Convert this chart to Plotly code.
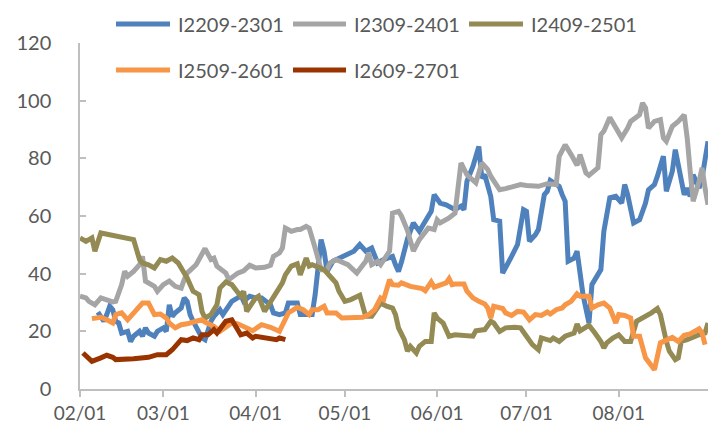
import plotly.graph_objects as go
import pandas as pd

YEAR = "2025-"

# ---------------- data ----------------
names = ["I2209-2301", "I2309-2401", "I2409-2501", "I2509-2601", "I2609-2701"]

blue_dates = ["02-07","02-09","02-10","02-11","02-12","02-13","02-14","02-15","02-17","02-18","02-19","02-21","02-22","02-23","02-24","02-26","02-27",
              "03-01","03-02","03-03","03-04","03-05","03-07","03-08","03-09","03-10","03-11","03-13","03-14","03-15","03-17","03-18","03-20","03-21","03-23","03-24","03-26","03-27","03-28","03-30",
              "04-01","04-03","04-06","04-07","04-09","04-11","04-12","04-15","04-16","04-20","04-21","04-22","04-23","04-24","04-25","04-27","04-30",
              "05-04","05-06","05-08","05-10","05-12","05-14","05-17","05-18","05-19","05-20","05-22","05-24","05-26","05-28","05-30","05-31",
              "06-02","06-04","06-07","06-09","06-10","06-11","06-13","06-15","06-16","06-17","06-19","06-20","06-22","06-23","06-25","06-26","06-28","06-30",
              "07-01","07-02","07-04","07-05","07-07","07-08","07-09","07-11","07-12","07-13","07-14","07-15","07-17","07-18","07-20","07-22","07-23","07-26","07-27","07-29","07-31",
              "08-02","08-03","08-04","08-06","08-08","08-10","08-11","08-13","08-14","08-16","08-17","08-19","08-20","08-22","08-23","08-24","08-25","08-26","08-28","08-29","08-31"]
blue_vals = [26.7,23.5,25.8,28.7,27.5,23.5,22.9,19.4,20.0,16.5,18.3,20.0,18.3,21.2,19.4,18.3,20.0,
             21.2,20.0,29.2,25.2,26.4,28.1,31.6,30.4,25.8,23.5,20.0,17.7,17.1,23.5,25.2,27.5,25.8,29.2,30.4,31.6,32.7,30.4,32.2,
             31.6,31.6,29.2,26.4,25.8,26.4,29.8,29.8,25.8,25.8,32.7,42.0,51.8,47.8,40.8,44.3,46.0,
             47.8,50.1,47.8,48.9,43.7,44.9,46.0,43.1,40.8,44.0,52.0,57.6,54.7,58.2,61.6,67.4,
             64.5,63.9,62.2,63.4,62.2,72.0,77.2,84.1,73.2,74.3,66.8,58.7,58.2,40.2,43.7,46.0,50.1,62.2,
             61.6,51.2,53.5,55.3,67.4,68.6,72.3,70.9,70.3,67.4,65.1,44.3,45.4,47.8,32.7,22.9,36.2,41.4,54.7,66.3,66.8,
             64.5,70.9,67.4,57.6,58.7,64.5,69.1,70.9,73.8,80.7,68.6,75.5,83.0,73.2,67.4,69.7,66.8,74.3,69.7,73.2,85.9]

gray_dates = ["02-01","02-03","02-04","02-06","02-08","02-10","02-12","02-13","02-15","02-16","02-17","02-19","02-21","02-22","02-23","02-26","02-27",
              "03-01","03-03","03-05","03-07","03-08","03-09","03-12","03-14","03-15","03-17","03-18","03-19","03-22","03-23","03-26","03-28","03-30",
              "04-01","04-04","04-06","04-07","04-09","04-10","04-11","04-13","04-15","04-16","04-18","04-19","04-21","04-23","04-25","04-26","04-28",
              "05-02","05-05","05-08","05-09","05-10","05-12","05-13","05-16","05-17","05-19","05-20","05-22","05-24","05-26","05-28","05-29","05-31",
              "06-01","06-02","06-05","06-07","06-09","06-11","06-14","06-16","06-18","06-19","06-22","06-24","06-26","06-29",
              "07-01","07-05","07-08","07-11","07-12","07-14","07-16","07-18","07-19","07-21","07-22","07-25","07-26","07-27","07-29","07-31",
              "08-02","08-04","08-05","08-08","08-09","08-10","08-11","08-13","08-15","08-16","08-17","08-19","08-21","08-23","08-24","08-25","08-26","08-28","08-29","08-30","08-31"]
gray_vals = [32.2,31.6,30.4,29.2,31.6,31.0,30.2,30.4,36.2,40.8,39.1,40.8,43.1,46.0,37.4,35.6,33.9,
             36.2,37.4,35.6,35.0,37.9,40.2,43.1,46.6,48.7,44.9,45.4,42.6,40.2,37.9,40.2,41.0,42.9,
             42.0,42.2,42.9,46.0,47.2,48.9,55.8,54.7,55.3,55.3,56.4,55.8,48.9,41.4,41.4,43.7,44.9,
             43.1,40.2,44.3,47.2,43.1,44.3,43.1,47.8,61.0,61.6,60.0,55.0,47.8,51.8,54.7,55.8,55.3,
             58.7,57.6,59.3,61.0,78.4,74.3,71.5,78.4,76.1,73.8,69.1,69.5,69.9,70.9,
             70.6,70.3,71.2,70.9,80.7,84.7,81.3,77.6,81.3,74.9,74.1,76.7,88.2,89.4,94.2,90.5,
             87.1,90.5,92.8,95.1,99.2,97.5,90.5,92.8,93.4,87.1,85.9,91.1,92.8,95.1,87.1,75.5,65.1,72.0,76.7,69.7,63.9]

olive_dates = ["02-01","02-03","02-05","02-06","02-08","02-19","02-21","02-22","02-24","02-26","02-28",
               "03-02","03-04","03-06","03-08","03-09","03-11","03-13","03-14","03-15","03-17","03-19","03-20","03-22","03-24","03-26","03-27","03-28","03-29",
               "04-01","04-02","04-04","04-06","04-08","04-10","04-11","04-13","04-15","04-16","04-18","04-19","04-20","04-23","04-24","04-26","04-28","04-29",
               "05-01","05-03","05-06","05-08","05-10","05-13","05-15","05-17","05-18","05-19","05-21","05-22","05-23","05-25","05-26","05-28","05-30","05-31",
               "06-01","06-03","06-05","06-07","06-11","06-13","06-14","06-17","06-19","06-20","06-22","06-24","06-27","06-29",
               "07-01","07-03","07-05","07-06","07-09","07-10","07-12","07-14","07-17","07-18","07-19","07-22","07-24","07-26","07-27","07-28","07-30",
               "08-01","08-03","08-05","08-07","08-09","08-12","08-14","08-15","08-17","08-18","08-20","08-21","08-22","08-24","08-28","08-30","08-31"]
olive_vals = [52.4,51.2,52.4,47.8,54.1,51.8,44.9,43.7,43.1,42.0,44.9,
              44.3,45.4,43.7,40.2,38.5,33.9,32.7,26.9,24.6,25.8,29.2,35.0,37.1,36.2,33.9,32.2,33.9,26.9,
              31.6,32.2,26.9,30.4,33.9,36.8,39.6,42.6,43.4,39.6,45.4,42.6,43.1,42.0,41.4,39.1,36.8,33.9,
              30.4,31.0,32.5,25.2,25.2,29.8,28.7,28.1,25.8,21.2,17.0,13.1,14.8,12.5,14.8,16.5,16.5,26.4,
              24.6,22.9,18.3,18.8,18.6,18.3,20.2,20.6,23.5,22.9,20.0,21.2,21.4,21.2,
              18.3,15.4,13.6,17.7,16.8,17.7,16.5,18.3,19.4,22.5,20.2,22.1,19.4,16.5,14.2,16.0,17.7,
              18.8,16.5,16.5,23.5,24.6,26.4,27.9,25.8,16.5,13.1,10.2,10.8,16.5,17.1,18.8,19.4,22.9]

orange_dates = ["02-05","02-08","02-10","02-12","02-13","02-15","02-17","02-19","02-22","02-24","02-26","02-28",
                "03-02","03-03","03-05","03-07","03-09","03-12","03-14","03-15","03-18","03-20","03-22","03-24","03-26","03-28","03-31",
                "04-03","04-06","04-09","04-11","04-12","04-15","04-17","04-19","04-20","04-22","04-24","04-25","04-28","04-30",
                "05-03","05-07","05-09","05-11","05-13","05-14","05-16","05-17","05-19","05-20","05-23","05-25","05-27","05-28","05-30","05-31",
                "06-02","06-04","06-05","06-06","06-07","06-10","06-11","06-13","06-15","06-17","06-18","06-19","06-20","06-23","06-24","06-26","06-28","06-30",
                "07-02","07-04","07-06","07-08","07-09","07-11","07-13","07-14","07-16","07-18","07-19","07-22","07-23","07-25","07-27","07-29","07-31",
                "08-01","08-03","08-05","08-06","08-08","08-10","08-13","08-15","08-17","08-19","08-21","08-23","08-25","08-27","08-28","08-29","08-30"]
orange_vals = [24.4,24.9,24.0,22.9,25.8,26.4,24.0,26.4,29.8,29.8,25.8,26.0,
               24.6,22.9,21.2,22.3,22.6,23.5,24.0,23.2,21.7,20.0,21.7,22.9,22.6,21.7,20.2,
               22.3,21.4,20.0,24.6,26.4,28.3,27.5,25.8,27.5,27.5,28.7,26.4,26.4,24.6,
               24.6,24.9,25.8,27.5,31.6,31.0,37.9,36.2,36.0,36.8,35.6,35.3,34.8,34.1,37.1,35.3,
               36.2,36.8,38.3,36.2,36.4,36.4,33.9,31.6,30.4,29.5,28.1,24.6,28.7,27.9,26.4,25.5,26.9,26.7,
               24.0,25.8,25.5,26.7,26.0,27.5,28.1,29.2,30.4,33.0,32.2,32.2,28.1,29.2,29.8,28.1,22.9,
               25.8,25.5,24.6,18.3,18.3,10.8,6.7,16.0,17.1,17.9,16.5,18.6,19.1,20.0,20.9,19.4,15.4]

red_dates = ["02-02","02-04","02-05","02-08","02-10","02-12","02-13","02-19","02-24","02-27",
             "03-02","03-04","03-05","03-07","03-09","03-11","03-13","03-14","03-16","03-18","03-19","03-21","03-22","03-24","03-26","03-27","03-29","03-31",
             "04-01","04-04","04-06","04-08","04-09","04-11"]
red_vals = [12.5,10.8,9.6,10.8,11.7,11.0,10.2,10.5,11.0,11.9,
            11.9,13.6,14.8,17.1,16.8,17.7,17.1,18.8,18.8,20.6,19.4,22.3,23.5,24.0,20.6,18.8,19.4,17.7,
            18.3,17.9,17.4,17.1,17.7,17.1]

x_tick_dates = ["02-01","03-01","04-01","05-01","06-01","07-01","08-01","09-01"]
x_tick_text = ["02/01","03/01","04/01","05/01","06/01","07/01","08/01",""]
y_ticks = [0, 20, 40, 60, 80, 100, 120]

colors = ["#4F81BD", "#A5A5A5", "#948A54", "#F79646", "#993300"]
series = [(blue_dates, blue_vals), (gray_dates, gray_vals), (olive_dates, olive_vals),
          (orange_dates, orange_vals), (red_dates, red_vals)]

# ---------------- figure ----------------
W, H = 716, 423
ML, MR, MT, MB = 72, 13, 35, 42
PW, PH = W - ML - MR, H - MT - MB

def to_dt(lst):
    return pd.to_datetime([YEAR + d for d in lst])

fig = go.Figure()
for (d, v), name, c in zip(series, names, colors):
    fig.add_trace(go.Scatter(x=to_dt(d), y=v, mode="lines", name=name,
                             line=dict(color=c, width=5), showlegend=False,
                             hoverinfo="x+y+name"))

FONT = "Lato"
TXT = "#595959"
AX = "#BFBFBF"

fig.update_layout(
    width=W, height=H,
    margin=dict(l=ML, r=MR, t=MT, b=MB, pad=0),
    paper_bgcolor="white", plot_bgcolor="white",
    font=dict(family=FONT, size=20, color=TXT),
)
fig.update_xaxes(
    type="date", range=[YEAR + "02-01", YEAR + "09-01"],
    tickmode="array", tickvals=to_dt(x_tick_dates), ticktext=x_tick_text,
    showgrid=False, zeroline=False, showline=True, linecolor=AX, linewidth=1.5,
    ticks="outside", ticklen=6, tickcolor=AX, tickwidth=1.5,
    tickfont=dict(family=FONT, size=19, color=TXT), automargin=False,
)
fig.update_yaxes(
    range=[0, 120], tickmode="array", tickvals=y_ticks,
    showgrid=False, zeroline=False, showline=True, linecolor=AX, linewidth=1.5,
    ticks="inside", ticklen=6, tickcolor=AX, tickwidth=1.5,
    tickfont=dict(family=FONT, size=20, color=TXT), automargin=False,
    ticklabelstandoff=23,
)

# ---------------- legend (two rows, drawn in paper space) ----------------
def px_x(p):
    return (p - ML) / PW

def px_y(p):
    return (H - MB - p) / PH

legend_items = [  # (line start px, line end px, text start px, row y px)
    (108, 162, 168, 16), (285, 338, 344, 16), (461, 515, 521, 16),
    (108, 162, 168, 62), (285, 338, 344, 62),
]
for (x0, x1, xt, yy), name, c in zip(legend_items, names, colors):
    fig.add_shape(type="line", xref="paper", yref="paper",
                  x0=px_x(x0), x1=px_x(x1), y0=px_y(yy), y1=px_y(yy),
                  line=dict(color=c, width=5))
    fig.add_annotation(xref="paper", yref="paper", x=px_x(xt), y=px_y(yy),
                       text=name, showarrow=False, xanchor="left", yanchor="middle",
                       font=dict(family=FONT, size=20, color=TXT))

fig.write_html("out.html")
